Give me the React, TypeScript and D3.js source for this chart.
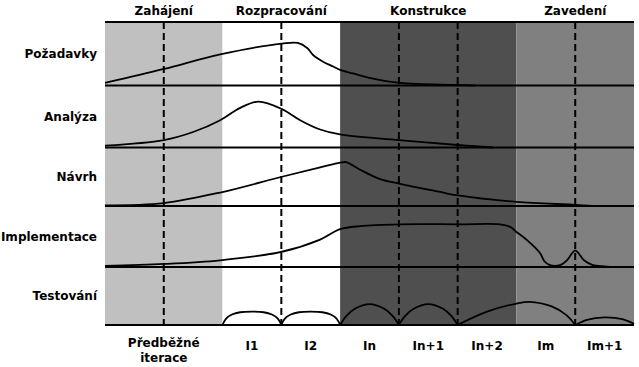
import * as d3 from "d3";

// disciplines (rows) and phases (columns)
const disciplines = ["Požadavky", "Analýza", "Návrh", "Implementace", "Testování"];
const phases = ["Zahájení", "Rozpracování", "Konstrukce", "Zavedení"];
const phaseIterations = [2, 2, 3, 2];
const phaseColors = ["#c0c0c0", "#ffffff", "#4f4f4f", "#808080"];
const iterationLabels = ["I1", "I2", "In", "In+1", "In+2", "Im", "Im+1"];
const preliminaryLabel = ["Předběžné", "iterace"];

// effort curves: [iteration position, relative effort in row]
const pozadavky: [number, number][] = [
  [0, 0.04], [1, 0.26], [1.96, 0.49], [3.01, 0.66], [3.28, 0.67], [3.44, 0.59],
  [3.54, 0.48], [3.71, 0.375], [3.88, 0.3], [4, 0.245], [4.22, 0.19], [4.5, 0.12],
  [5.02, 0.04], [6, 0.01], [6.3, 0],
];
const analyza: [number, number][] = [
  [0, 0.03], [1, 0.12], [1.5, 0.25], [1.96, 0.44], [2.3, 0.64], [2.61, 0.74],
  [3.01, 0.62], [3.32, 0.44], [3.66, 0.29], [4, 0.21], [5, 0.12], [6, 0.04],
  [6.3, 0.02], [6.6, 0],
];
const navrh: [number, number][] = [
  [0, 0.01], [1, 0.05], [1.96, 0.23], [3.01, 0.5], [3.66, 0.66], [4, 0.74],
  [4.1, 0.75], [4.34, 0.62], [4.68, 0.46], [5.02, 0.38], [5.7, 0.24], [6, 0.18],
  [7, 0.07], [8, 0.02], [8.3, 0],
];
const implementace: [number, number][] = [
  [0, 0.02], [1, 0.05], [1.96, 0.11], [3.01, 0.25], [3.66, 0.45], [4, 0.62],
  [4.34, 0.67], [5.02, 0.7], [6, 0.7], [6.72, 0.7], [6.89, 0.66], [7, 0.575],
  [7.18, 0.44], [7.4, 0.23], [7.48, 0.09], [7.57, 0.03], [7.74, 0.03], [7.86, 0.11],
  [8, 0.27], [8.15, 0.11], [8.3, 0.03], [8.5, 0.01], [8.6, 0],
];
const testovani: [number, number][][] = [
  [[2, 0], [2.06, 0.11], [2.16, 0.18], [2.3, 0.22], [2.5, 0.23], [2.7, 0.22], [2.84, 0.18], [2.94, 0.11], [3, 0]],
  [[3, 0], [3.06, 0.11], [3.16, 0.18], [3.3, 0.22], [3.5, 0.23], [3.7, 0.22], [3.84, 0.18], [3.94, 0.11], [4, 0]],
  [[4, 0], [4.1, 0.15], [4.25, 0.28], [4.5, 0.36], [4.75, 0.28], [4.9, 0.15], [5, 0]],
  [[5, 0], [5.1, 0.15], [5.25, 0.28], [5.5, 0.36], [5.75, 0.28], [5.9, 0.15], [6, 0]],
  [[6, 0], [6.5, 0.23], [7, 0.37], [7.22, 0.4], [7.6, 0.32], [7.85, 0.17], [8, 0]],
  [[8, 0], [8.2, 0.09], [8.5, 0.13], [8.8, 0.1], [9, 0.02]],
];

const W = 639;
const H = 367;
const font = "'DejaVu Sans', Verdana, sans-serif";

export default function App() {
  const nIter = d3.sum(phaseIterations);
  const x = d3.scaleLinear().domain([0, nIter]).range([105, 634]);
  const rowY = d3.scaleLinear().domain([0, 1, 2, 3, 4, 5]).range([22, 85.5, 147.5, 206, 267, 325]);

  const phaseStarts = d3.cumsum([0, ...phaseIterations]);
  const boundaries = d3.range(1, nIter).filter((i) => !phaseStarts.includes(i));

  const rowLine = (row: number) => {
    const y = d3.scaleLinear().domain([0, 1]).range([rowY(row + 1), rowY(row)]);
    return d3
      .line<[number, number]>()
      .x((d) => x(d[0]))
      .y((d) => y(d[1]))
      .curve(d3.curveCatmullRom.alpha(0.5));
  };

  const curves: { row: number; pts: [number, number][] }[] = [
    { row: 0, pts: pozadavky },
    { row: 1, pts: analyza },
    { row: 2, pts: navrh },
    { row: 3, pts: implementace },
    ...testovani.map((pts) => ({ row: 4, pts })),
  ];

  return (
    <div style={{ position: "fixed", left: 0, top: 0 }}>
      <svg width={W} height={H} style={{ display: "block", background: "#fff" }} fontFamily={font}>
        {phases.map((p, i) => (
          <rect
            key={p}
            x={x(phaseStarts[i])}
            y={rowY(0)}
            width={x(phaseStarts[i + 1]) - x(phaseStarts[i])}
            height={rowY(5) - rowY(0)}
            fill={phaseColors[i]}
          />
        ))}
        {boundaries.map((b) => (
          <line
            key={b}
            x1={x(b)}
            x2={x(b)}
            y1={rowY(0)}
            y2={rowY(5)}
            stroke="#000"
            strokeWidth={2}
            strokeDasharray="7,4"
          />
        ))}
        {d3.range(0, 6).map((r) => (
          <line key={r} x1={x(0)} x2={x(nIter)} y1={rowY(r)} y2={rowY(r)} stroke="#000" strokeWidth={2} />
        ))}
        {phaseStarts.map((s) => (
          <line key={s} x1={x(s)} x2={x(s)} y1={rowY(0)} y2={rowY(5)} stroke="#000" strokeWidth={2} />
        ))}
        {curves.map((c, i) => (
          <path key={i} d={rowLine(c.row)(c.pts) || ""} fill="none" stroke="#000" strokeWidth={1.8} />
        ))}
        {phases.map((p, i) => (
          <text
            key={p}
            x={(x(phaseStarts[i]) + x(phaseStarts[i + 1])) / 2}
            y={15}
            textAnchor="middle"
            fontSize={12}
            fontWeight="bold"
          >
            {p}
          </text>
        ))}
        {disciplines.map((d, i) => (
          <text
            key={d}
            x={97}
            y={(rowY(i) + rowY(i + 1)) / 2}
            dy="0.35em"
            textAnchor="end"
            fontSize={12}
            fontWeight="bold"
          >
            {d}
          </text>
        ))}
        {preliminaryLabel.map((t, i) => (
          <text
            key={t}
            x={x(phaseIterations[0] / 2)}
            y={343 + i * 15}
            dy="0.35em"
            textAnchor="middle"
            fontSize={12}
            fontWeight="bold"
          >
            {t}
          </text>
        ))}
        {iterationLabels.map((t, i) => (
          <text
            key={t}
            x={x(phaseIterations[0] + i + 0.5)}
            y={346}
            dy="0.35em"
            textAnchor="middle"
            fontSize={12}
            fontWeight="bold"
          >
            {t}
          </text>
        ))}
      </svg>
    </div>
  );
}
